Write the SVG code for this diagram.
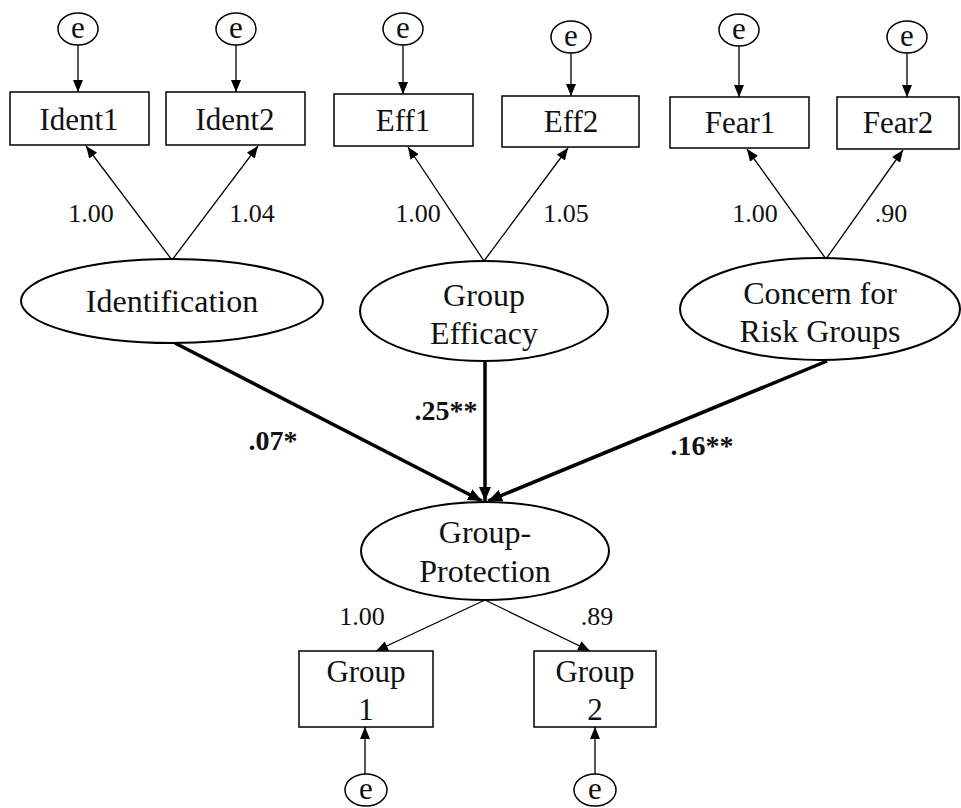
<svg xmlns="http://www.w3.org/2000/svg" width="961" height="808" viewBox="0 0 961 808">
<defs>
<marker id="ah" viewBox="0 0 12 10" refX="12" refY="5" markerWidth="12" markerHeight="10" markerUnits="userSpaceOnUse" orient="auto"><path d="M0,0 L12,5 L0,10 z" fill="#000"/></marker>
<marker id="ahb" viewBox="0 0 14 12" refX="14" refY="6" markerWidth="14" markerHeight="12" markerUnits="userSpaceOnUse" orient="auto"><path d="M0,0 L14,6 L0,12 z" fill="#000"/></marker>
<style>
rect,ellipse{fill:#fff;stroke:#000;stroke-width:1.5}
ellipse.lat{stroke-width:2}
text{font-family:"Liberation Serif","Times New Roman",serif;fill:#111;text-anchor:middle}
.box{font-size:31px}
.lat{font-size:32px}
.e{font-size:31px}
.num{font-size:26px}
.bold{font-size:28px;font-weight:bold}
.thin{stroke:#000;stroke-width:1.3;fill:none;marker-end:url(#ah)}
.thick{stroke:#000;stroke-width:3.5;fill:none;marker-end:url(#ahb)}
</style>
</defs>
<rect x="0" y="0" width="961" height="808" style="fill:#fff;stroke:none"/>
<g id="connectors">
<line class="thin" x1="78" y1="45" x2="78" y2="92"/>
<line class="thin" x1="236" y1="45" x2="236" y2="92"/>
<line class="thin" x1="403" y1="45" x2="403" y2="94"/>
<line class="thin" x1="571" y1="53" x2="571" y2="96"/>
<line class="thin" x1="739" y1="46" x2="739" y2="97"/>
<line class="thin" x1="907" y1="53" x2="907" y2="97"/>
<line class="thin" x1="172" y1="260" x2="86" y2="146"/>
<line class="thin" x1="172" y1="260" x2="258" y2="146"/>
<line class="thin" x1="484" y1="261" x2="408" y2="147"/>
<line class="thin" x1="484" y1="261" x2="568" y2="148"/>
<line class="thin" x1="826" y1="259" x2="747" y2="149"/>
<line class="thin" x1="826" y1="259" x2="903" y2="150"/>
<line class="thick" x1="175" y1="343" x2="482" y2="501"/>
<line class="thick" x1="485" y1="362" x2="485" y2="501"/>
<line class="thick" x1="827" y1="361" x2="488" y2="501"/>
<line class="thin" x1="485" y1="600" x2="376" y2="651"/>
<line class="thin" x1="485" y1="600" x2="590" y2="651"/>
<line class="thin" x1="365" y1="774" x2="365" y2="727"/>
<line class="thin" x1="595" y1="774" x2="595" y2="727"/>
</g>
<g id="labels">
<text class="num" x="91" y="222">1.00</text>
<text class="num" x="252" y="222">1.04</text>
<text class="num" x="418" y="222">1.00</text>
<text class="num" x="566" y="222">1.05</text>
<text class="num" x="755" y="222">1.00</text>
<text class="num" x="891" y="222">.90</text>
<text class="bold" x="273" y="450">.07*</text>
<text class="bold" x="446" y="420">.25**</text>
<text class="bold" x="702" y="455">.16**</text>
<text class="num" x="362" y="625">1.00</text>
<text class="num" x="597" y="625">.89</text>
</g>
<g id="e1"><ellipse cx="78" cy="29" rx="20" ry="16"/><text class="e" x="78" y="38">e</text></g>
<g id="e2"><ellipse cx="236" cy="29" rx="20" ry="16"/><text class="e" x="236" y="38">e</text></g>
<g id="e3"><ellipse cx="403" cy="29" rx="20" ry="16"/><text class="e" x="403" y="38">e</text></g>
<g id="e4"><ellipse cx="571" cy="37" rx="20" ry="16"/><text class="e" x="571" y="46">e</text></g>
<g id="e5"><ellipse cx="739" cy="30" rx="20" ry="16"/><text class="e" x="739" y="39">e</text></g>
<g id="e6"><ellipse cx="907" cy="37" rx="20" ry="16"/><text class="e" x="907" y="46">e</text></g>
<g id="ident1"><rect x="10" y="92" width="139" height="53"/><text class="box" x="79" y="130">Ident1</text></g>
<g id="ident2"><rect x="166" y="92" width="139" height="53"/><text class="box" x="235" y="130">Ident2</text></g>
<g id="eff1"><rect x="334" y="94" width="139" height="52"/><text class="box" x="403" y="131">Eff1</text></g>
<g id="eff2"><rect x="502" y="96" width="137" height="51"/><text class="box" x="571" y="132">Eff2</text></g>
<g id="fear1"><rect x="670" y="97" width="139" height="51"/><text class="box" x="740" y="133">Fear1</text></g>
<g id="fear2"><rect x="837" y="97" width="122" height="52"/><text class="box" x="898" y="133">Fear2</text></g>
<g id="identification"><ellipse class="lat" cx="172" cy="301" rx="151" ry="42"/><text class="lat" x="172" y="312">Identification</text></g>
<g id="groupefficacy"><ellipse class="lat" cx="484" cy="311" rx="124" ry="50"/><text class="lat" x="484" y="306">Group</text><text class="lat" x="484" y="344">Efficacy</text></g>
<g id="concern"><ellipse class="lat" cx="820" cy="309" rx="140" ry="51"/><text class="lat" x="820" y="304">Concern for</text><text class="lat" x="820" y="342">Risk Groups</text></g>
<g id="groupprotection"><ellipse class="lat" cx="485" cy="551" rx="124" ry="49"/><text class="lat" x="485" y="543">Group-</text><text class="lat" x="485" y="582">Protection</text></g>
<g id="group1"><rect x="299" y="651" width="134" height="76"/><text class="box" x="366" y="682">Group</text><text class="box" x="366" y="720">1</text></g>
<g id="group2"><rect x="534" y="651" width="122" height="76"/><text class="box" x="595" y="682">Group</text><text class="box" x="595" y="720">2</text></g>
<g id="e7"><ellipse cx="366" cy="790" rx="21" ry="16"/><text class="e" x="366" y="799">e</text></g>
<g id="e8"><ellipse cx="595" cy="790" rx="21" ry="16"/><text class="e" x="595" y="799">e</text></g>
</svg>
